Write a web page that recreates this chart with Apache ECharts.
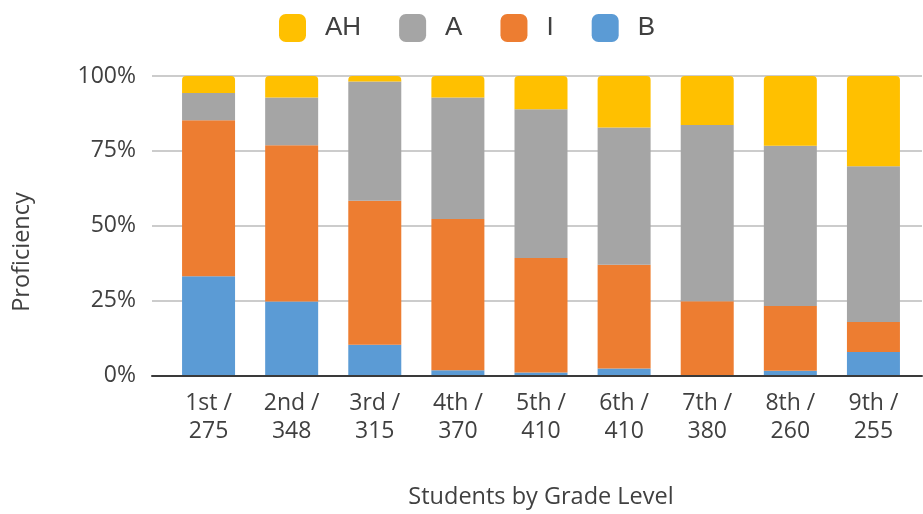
<!DOCTYPE html>
<html>
<head>
<meta charset="utf-8">
<script src="https://cdn.jsdelivr.net/npm/echarts@6/dist/echarts.min.js"></script>
<style>
html,body{margin:0;padding:0;background:#fff;}
#chart{width:923px;height:514px;}
</style>
</head>
<body>
<div id="chart"></div>
<script>
const categories = ['1st /\n275','2nd /\n348','3rd /\n315','4th /\n370','5th /\n410','6th /\n410','7th /\n380','8th /\n260','9th /\n255'];
const seriesB  = [33.0, 24.6, 10.1, 1.6, 0.8, 2.2, 0.0, 1.4, 7.7];
const seriesI  = [52.2, 52.2, 48.2, 50.6, 38.3, 34.7, 24.7, 21.7, 10.0];
const seriesA  = [9.1, 16.0, 39.9, 40.6, 49.8, 45.9, 58.9, 53.6, 52.1];
const seriesAH = [5.7, 7.2, 1.8, 7.2, 11.1, 17.2, 16.4, 23.3, 30.2];
const yTicks = [0, 25, 50, 75, 100];

const textColor = '#404040';
const font = 'Open Sans';

const chart = echarts.init(document.getElementById('chart'));
const bar = (name, data, color, radius) => ({
  name, type: 'bar', stack: 'total', data, barWidth: 53,
  xAxisIndex: 0, yAxisIndex: 0,
  itemStyle: { color, borderRadius: radius || 0 },
  emphasis: { disabled: true }
});
chart.setOption({
  animation: false,
  legend: {
    data: ['AH', 'A', 'I', 'B'],
    left: 279, top: 14, padding: 0,
    itemWidth: 27, itemHeight: 28, itemGap: 38,
    icon: 'roundRect',
    textStyle: { fontSize: 26, fontFamily: 'Liberation Sans', color: textColor, padding: [0, 0, 0, 14] }
  },
  grid: [
    { left: 167, right: 8, top: 76, bottom: 138 },
    { left: 152, right: 1, top: 76, bottom: 138 }
  ],
  xAxis: [
    {
      type: 'category', gridIndex: 0, data: categories,
      axisLine: { show: false }, axisTick: { show: false },
      axisLabel: { fontSize: 23, fontFamily: font, color: textColor, lineHeight: 28, margin: 14, interval: 0 },
      name: 'Students by Grade Level', nameLocation: 'middle', nameGap: 110,
      nameTextStyle: { fontSize: 23.5, fontFamily: font, color: textColor }
    },
    {
      type: 'value', gridIndex: 1, min: 0, max: 1,
      axisLine: { show: true, lineStyle: { color: '#3a3a3a', width: 2 } },
      axisTick: { show: false }, axisLabel: { show: false }, splitLine: { show: false }
    }
  ],
  yAxis: [
    {
      type: 'value', gridIndex: 0, min: yTicks[0], max: yTicks[yTicks.length - 1], interval: 25,
      axisLine: { show: false }, axisTick: { show: false }, splitLine: { show: false },
      axisLabel: { formatter: '{value}%', fontSize: 23, fontFamily: font, color: textColor, margin: 31 }
    },
    {
      type: 'value', gridIndex: 1, min: yTicks[0], max: yTicks[yTicks.length - 1], interval: 25,
      axisLine: { show: false }, axisTick: { show: false }, axisLabel: { show: false },
      splitLine: { show: true, lineStyle: { color: '#cccccc', width: 2 } }
    }
  ],
  graphic: [{
    type: 'text', x: 22, y: 252, rotation: Math.PI / 2,
    style: { text: 'Proficiency', fontSize: 23.5, fontFamily: font, fill: textColor, align: 'center', verticalAlign: 'middle' }
  }],
  series: [
    bar('B', seriesB, '#5B9BD5'),
    bar('I', seriesI, '#ED7D31'),
    bar('A', seriesA, '#A5A5A5'),
    bar('AH', seriesAH, '#FFC000', [4, 4, 0, 0])
  ]
});
</script>
</body>
</html>
